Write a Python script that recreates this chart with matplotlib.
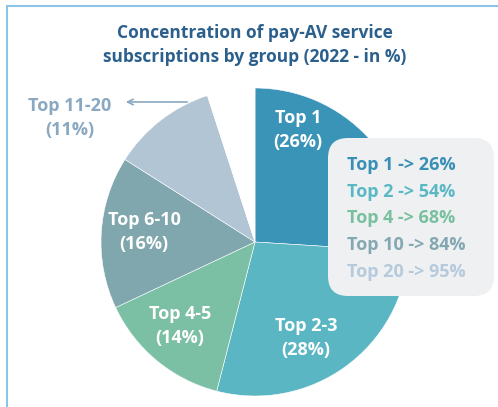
"""
Concentration of pay-AV service subscriptions by group (2022)
Output: out.png
"""
import matplotlib.pyplot as plt
from matplotlib.patches import FancyBboxPatch, Rectangle

# data
groups = ["Top 1", "Top 2-3", "Top 4-5", "Top 6-10", "Top 11-20"]
shares = [26, 28, 14, 16, 11]
rest = 100 - sum(shares)
colors = ["#3a94b8", "#5ab6c3", "#7bbfa4", "#7fa7ad", "#b2c5d5"]

cum_labels = ["Top 1", "Top 2", "Top 4", "Top 10", "Top 20"]
cum_values = [26, 54, 68, 84, 95]
cum_colors = ["#3a8fb5", "#5ab8c4", "#78c09e", "#84a8b2", "#b6cadb"]

plt.rcParams["font.family"] = ["Open Sans", "DejaVu Sans"]

W, H = 498, 407
fig = plt.figure(figsize=(W / 100, H / 100), dpi=100)
ax = fig.add_axes([0, 0, 1, 1])

# frame
ax.add_patch(Rectangle((7, -20), W + 20, H - 6 + 20, fill=False,
                       edgecolor="#8cc4e8", linewidth=1.5))

# title
ax.text(255, H - 45, "Concentration of pay-AV service\nsubscriptions by group (2022 - in %)",
        ha="center", va="center", fontsize=12.5, fontweight="bold",
        color="#2b5f8c", linespacing=1.5)

# pie
cx, cy, r = 255, H - 242, 154
ax.pie(shares + [rest], colors=colors + ["white"], startangle=90,
       counterclock=False, center=(cx, cy), radius=r,
       wedgeprops=dict(linewidth=0.4, edgecolor="white"), frame=True)
ax.set_xlim(0, W)
ax.set_ylim(0, H)
ax.set_aspect("equal")
ax.axis("off")

# slice labels
label_pos = [(298, 130), (306, 338), (180, 326), (144, 232)]
for g, s, (x, y) in zip(groups[:4], shares[:4], label_pos):
    ax.text(x, H - y, f"{g}\n({s}%)", ha="center", va="center",
            fontsize=13, fontweight="bold", color="white", linespacing=1.4)

ax.text(70, H - 118, f"{groups[4]}\n({shares[4]}%)", ha="center", va="center",
        fontsize=13, fontweight="bold", color="#8aa8c2", linespacing=1.4)
ax.annotate("", xy=(123, H - 102), xytext=(190, H - 102),
            arrowprops=dict(arrowstyle="->", color="#8aa8c2", lw=1.2))

# cumulative box
ax.add_patch(FancyBboxPatch((328, H - 296), 166, 158,
                            boxstyle="round,pad=0,rounding_size=20",
                            facecolor="#eef0f2", edgecolor="none"))
for i, (lab, v, c) in enumerate(zip(cum_labels, cum_values, cum_colors)):
    ax.text(347, H - (165 + i * 26.7), f"{lab} -> {v}%", ha="left", va="center",
            fontsize=13, fontweight="bold", color=c)

fig.savefig("out.png", dpi=100)
